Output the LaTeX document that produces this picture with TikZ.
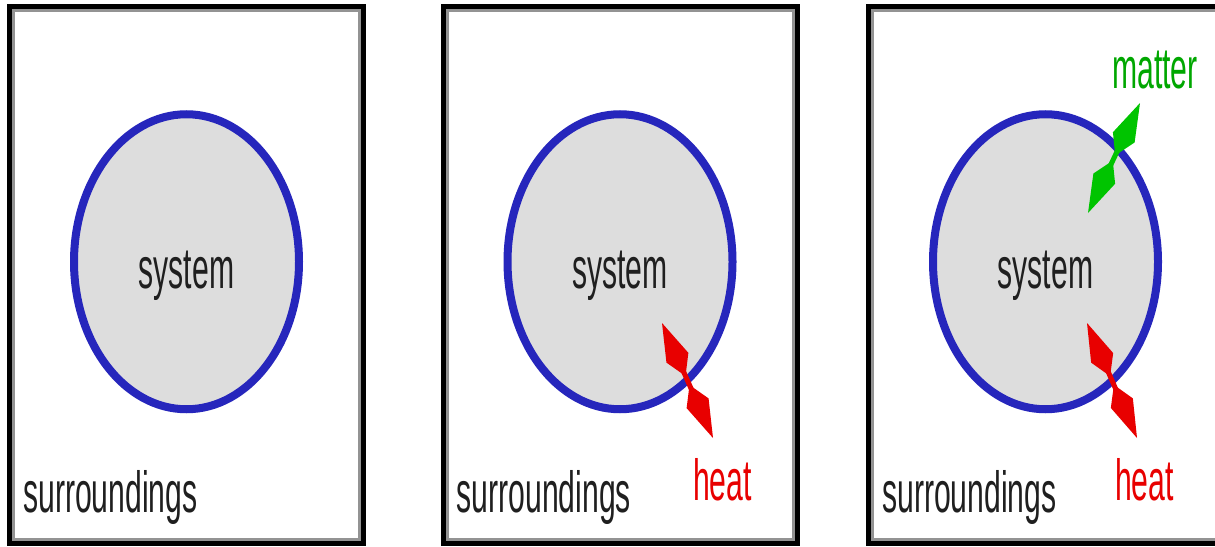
\documentclass[tikz,border=0pt]{standalone}
\usepackage{fontspec}
\setmainfont{Liberation Sans}
\usetikzlibrary{positioning,shapes.geometric,arrows.meta}

\definecolor{sysblue}{RGB}{38,38,188}
\definecolor{sysgray}{RGB}{221,221,221}
\definecolor{heatred}{RGB}{232,0,0}
\definecolor{matgreen}{RGB}{0,196,0}

% narrow letters, as in the picture
\newcommand{\narrow}[1]{\scalebox{0.52}[1]{#1}}

\begin{document}
\begin{tikzpicture}[
    x=1pt, y=-1pt,
    panel/.style={rectangle, draw=black, line width=5pt, outer sep=0pt, inner sep=0pt,
                  minimum width=354pt, minimum height=536.5pt},
    rim/.style={draw=gray!85, line width=3pt},
    sys/.style={ellipse, draw=sysblue, fill=sysgray, line width=8pt, inner sep=0pt,
                minimum width=225pt, minimum height=295pt},
    txt/.style={inner sep=0pt, font=\fontsize{58}{60}\selectfont, text=black!88},
    heatarr/.style={{Kite[length=58pt, width=24pt, inset=20pt]}-{Kite[length=58pt, width=24pt, inset=20pt]},
                    draw=heatred, line width=5pt},
    matarr/.style={{Kite[length=58pt, width=24pt, inset=20pt]}-{Kite[length=58pt, width=24pt, inset=20pt]},
                   draw=matgreen, line width=5pt},
]
\clip (0,0) rectangle (1215,546);
\fill[white] (0,0) rectangle (1215,546);

% three panels
\node[panel] (box1) at (186.5,274.75) {};
\node[panel, right=79.5pt of box1] (box2) {};
\node[panel, right=71.5pt of box2] (box3) {};
\foreach \b in {box1,box2,box3}
    \draw[rim] ([shift={(4pt,-4pt)}]\b.north west) rectangle ([shift={(-4pt,4pt)}]\b.south east);

% systems
\node[sys] (sys1) at ([yshift=13pt]box1.center) {};
\node[sys] (sys2) at ([yshift=13pt]box2.center) {};
\node[sys] (sys3) at ([yshift=13pt]box3.center) {};

\node[txt, anchor=base] (name1) at ([yshift=-26.5pt]sys1.center) {\narrow{system}};
\node[txt, anchor=base] (name2) at ([yshift=-26.5pt]sys2.center) {\narrow{system}};
\node[txt, anchor=base] (name3) at ([yshift=-26.5pt]sys3.center) {\narrow{system}};

\node[txt, anchor=base west] (surr1) at ([shift={(13.5pt,31pt)}]box1.south west) {\narrow{surroundings}};
\node[txt, anchor=base west] (surr2) at ([shift={(13.5pt,31pt)}]box2.south west) {\narrow{surroundings}};
\node[txt, anchor=base west] (surr3) at ([shift={(13.5pt,31pt)}]box3.south west) {\narrow{surroundings}};

% exchanges
\coordinate (heatin2)  at (662,323);
\coordinate (heatout2) at (713,438);
\coordinate (heatin3)  at (1087,323);
\coordinate (heatout3) at (1137,438);
\coordinate (matin3)   at (1088,213);
\coordinate (matout3)  at (1140,103);

\node[txt, text=heatred, anchor=base west] (heat2) at (693,500) {\narrow{heat}};
\node[txt, text=heatred, anchor=base west] (heat3) at (1115,500) {\narrow{heat}};
\node[txt, text=matgreen!85!black, anchor=base west] (matter3) at (1112,88) {\narrow{matter}};

\draw[heatarr] (heatin2) -- (heatout2);
\draw[heatarr] (heatin3) -- (heatout3);
\draw[matarr]  (matin3)  -- (matout3);
\end{tikzpicture}
\end{document}
